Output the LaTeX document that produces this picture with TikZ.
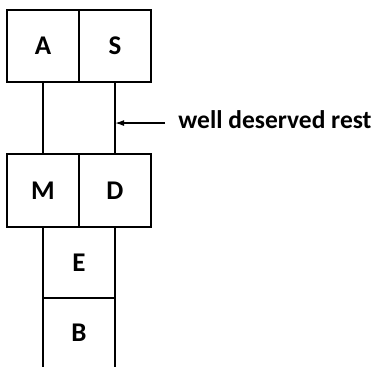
\documentclass[tikz,border=0pt]{standalone}
\usepackage{fontspec}
\setmainfont{Carlito}
\usetikzlibrary{arrows.meta,calc}

\tikzset{
	cell/.style={draw, line width=2.8pt, minimum width=72pt, minimum height=72pt, inner sep=0pt, outer sep=0pt, font=\bfseries\fontsize{27}{30}\selectfont},
	open/.style={cell, draw=none},
}

\begin{document}
\begin{tikzpicture}[x=1pt,y=-1pt,line width=2.8pt]
	\useasboundingbox (0,0) rectangle (374,367);
	% top pair
	\node[cell] (A) at (43,46) {A};
	\node[cell] (S) at (115,46) {S};
	% second pair
	\node[cell, minimum height=73pt] (M) at (43,190.5) {M};
	\node[cell, minimum height=73pt] (D) at (115,190.5) {D};
	% the column below
	\node[cell, minimum height=71pt] (E) at (79,262.5) {E};
	\node[open, minimum height=69pt] (B) at (79,332.5) {B};
	\coordinate (Bl) at (43,367);
	\coordinate (Br) at (115,367);
	\draw (E.south west) -- (Bl);
	\draw (E.south east) -- (Br);
	
	% gap between the pairs
	\draw (A.south) -- (M.north);
	\draw (S.south) -- (D.north);
	
	\coordinate (gap) at ($(S.south)!0.57!(D.north)$);
	\node[anchor=west, inner sep=0pt, font=\bfseries\fontsize{25.5}{28}\selectfont] (rest) at (177,120) {well deserved rest};
	\draw[-{Latex[length=9pt,width=6pt]}, line width=1.4pt] ([xshift=-12pt]rest.west |- gap) -- (gap);
\end{tikzpicture}
\end{document}
